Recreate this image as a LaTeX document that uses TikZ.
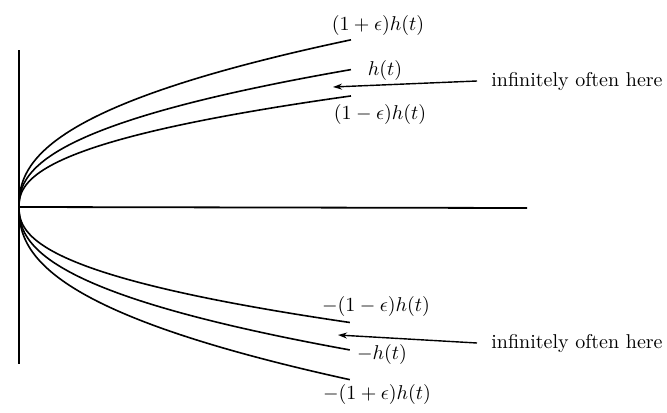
\documentclass[tikz,border=0pt]{standalone}
\usetikzlibrary{arrows.meta}
\begin{document}
\begin{tikzpicture}[x=0.5pt,y=-0.5pt,
  axis/.style={line width=0.9pt},
  curve/.style={line width=0.8pt, smooth},
  lab/.style={inner sep=0pt, anchor=base},
  note/.style={inner xsep=7pt, inner ysep=0pt, anchor=base west},
  pointer/.style={line width=0.7pt, -{Stealth[length=4.5pt,width=3pt]}}]
\useasboundingbox (0,0) rectangle (667,412);
% axes
\coordinate (ytop) at (19,50);
\coordinate (ybot) at (19,364);
\coordinate (O) at (19,207);
\coordinate (xend) at (527,208);
\draw[axis] (ytop) -- (ybot);
\draw[axis] (O) -- (xend);
% upper curves: y = 207 - A t^0.42, t = s^2
\draw[curve] plot[domain=0.001:18.22, samples=70] ({19+\x*\x},{207-14.6*(\x)^0.84});
\draw[curve] plot[domain=0.001:18.22, samples=70] ({19+\x*\x},{207-12.0*(\x)^0.84});
\draw[curve] plot[domain=0.001:18.22, samples=70] ({19+\x*\x},{207-9.7*(\x)^0.84});
% lower curves
\draw[curve] plot[domain=0.001:18.19, samples=70] ({19+\x*\x},{207+10.1*(\x)^0.84});
\draw[curve] plot[domain=0.001:18.19, samples=70] ({19+\x*\x},{207+12.5*(\x)^0.84});
\draw[curve] plot[domain=0.001:18.19, samples=70] ({19+\x*\x},{207+15.1*(\x)^0.84});
% labels
\node[lab] (lp) at (378,30) {$(1+\epsilon)h(t)$};
\node[lab] (lh) at (385,75) {$h(t)$};
\node[lab] (lm) at (380,119) {$(1-\epsilon)h(t)$};
\node[lab] (nm) at (376,311) {$-(1-\epsilon)h(t)$};
\node[lab] (nh) at (382,359) {$-h(t)$};
\node[lab] (np) at (377,399) {$-(1+\epsilon)h(t)$};
% notes and pointers
\node[note] (io1) at (477,86) {infinitely often here};
\node[note] (io2) at (477,348) {infinitely often here};
\coordinate (a1) at (333,87);
\coordinate (a2) at (338,335);
\draw[pointer] (io1.west) -- (a1);
\draw[pointer] (io2.west) -- (a2);
\end{tikzpicture}
\end{document}
